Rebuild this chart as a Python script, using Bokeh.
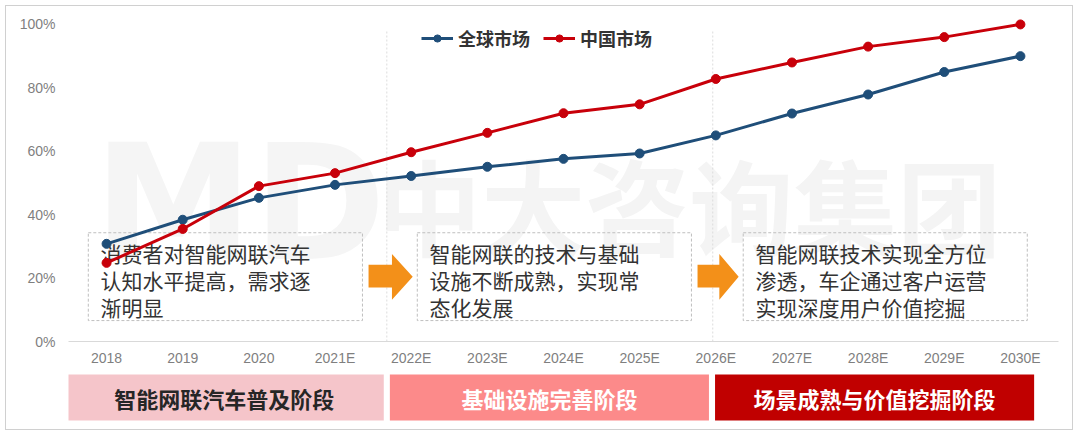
from bokeh.plotting import figure
from bokeh.models import (ColumnDataSource, FactorRange, Range1d, Legend, LegendItem,
                          FixedTicker, PrintfTickFormatter)
from bokeh.layouts import column
from bokeh.embed import file_html
from bokeh.resources import INLINE
from bokeh.core.properties import value

# ---------------- data ----------------
years = ["2018", "2019", "2020", "2021E", "2022E", "2023E", "2024E",
         "2025E", "2026E", "2027E", "2028E", "2029E", "2030E"]
global_market = [30.8, 38.4, 45.3, 49.4, 52.2, 55.1, 57.6, 59.3, 65.0, 71.9, 77.9, 85.0, 90.0]
china_market = [24.8, 35.5, 49.0, 53.1, 59.7, 65.8, 72.0, 74.8, 82.8, 88.0, 93.0, 96.0, 100.0]
series_names = ["全球市场", "中国市场"]
y_ticks = [0, 20, 40, 60, 80, 100]
phase_names = ["智能网联汽车普及阶段", "基础设施完善阶段", "场景成熟与价值挖掘阶段"]
phase_notes = [
    ["消费者对智能网联汽车", "认知水平提高，需求逐", "渐明显"],
    ["智能网联的技术与基础", "设施不断成熟，实现常", "态化发展"],
    ["智能网联技术实现全方位", "渗透，车企通过客户运营", "实现深度用户价值挖掘"],
]

# ---------------- style ----------------
BLUE = "#1f4e79"
RED = "#c8000a"
ORANGE = "#f39019"
GRAY_TXT = "#7f7f7f"
CJK = "Noto Sans CJK SC"
LAT = "Liberation Sans"
band_fill = ["#f5c5ca", "#fc8a8a", "#c00000"]
band_text = ["#262626", "#ffffff", "#ffffff"]


def sx(cat, off=0.0):
    """synthetic categorical coordinate: factor centre plus offset"""
    return years.index(cat) + 0.5 + off


x_range = FactorRange(*years, range_padding=0)

p = figure(x_range=x_range, y_range=Range1d(0, 102.5), width=1066, height=362,
           output_backend="svg", toolbar_location=None,
           min_border_left=62, min_border_right=14, min_border_top=10, min_border_bottom=26)
p.outline_line_color = None
p.background_fill_color = "white"
p.xgrid.grid_line_color = None
p.ygrid.grid_line_color = None

p.xaxis.axis_line_color = "#d9d9d9"
p.xaxis.major_tick_line_color = None
p.xaxis.minor_tick_line_color = None
p.xaxis.major_tick_out = 0
p.xaxis.major_tick_in = 0
p.xaxis.major_label_text_color = GRAY_TXT
p.xaxis.major_label_text_font = LAT
p.xaxis.major_label_text_font_size = "14px"
p.xaxis.major_label_standoff = 8

p.yaxis.axis_line_color = None
p.yaxis.major_tick_line_color = None
p.yaxis.minor_tick_line_color = None
p.yaxis.major_tick_out = 0
p.yaxis.major_tick_in = 0
p.yaxis.ticker = FixedTicker(ticks=y_ticks)
p.yaxis.formatter = PrintfTickFormatter(format="%d%%")
p.yaxis.major_label_text_color = GRAY_TXT
p.yaxis.major_label_text_font = LAT
p.yaxis.major_label_text_font_size = "14px"
p.yaxis.major_label_standoff = 13

# watermark
p.text(x=[sx("2026E", -0.35)], y=[43.5], text=["中大咨询集团"], text_font=value(CJK),
       text_font_style="bold", text_font_size="104px", text_color="#f4f4f4",
       text_align="center", text_baseline="middle")
p.text(x=[sx("2020", -0.25)], y=[43.5], text=["MD"], text_font=value("DejaVu Sans"),
       text_font_style="bold", text_font_size="160px", text_color="#f5f5f5",
       text_align="center", text_baseline="middle")

# phase separators (dotted verticals)
sep_x = [sx("2021E", 0.68), sx("2026E", -0.04)]
p.segment(x0=sep_x, y0=[0, 0], x1=sep_x, y1=[98, 98], line_color="#dcdcdc",
          line_width=1, line_dash="2 2")

# note boxes
box_left = [sx("2018", -0.24), sx("2022E", 0.08), sx("2026E", 0.36)]
box_right = [sx("2021E", 0.36), sx("2025E", 0.68), sx("2030E", 0.09)]
p.quad(left=box_left, right=box_right, top=34.3, bottom=6.6, fill_color=None,
       line_color="#bfbfbf", line_width=1, line_dash="3 2")

line_y = [28.0, 19.5, 11.0]
tx, ty, tt = [], [], []
for bl, notes in zip(box_left, phase_notes):
    for yy, s in zip(line_y, notes):
        tx.append(bl + 0.16)
        ty.append(yy)
        tt.append(s)
p.text(x=tx, y=ty, text=tt, text_font=value(CJK), text_font_size="21px",
       text_color="#333333", text_baseline="middle", text_align="left")

# orange arrows between boxes
axs, ays = [], []
for i in range(2):
    x0 = box_right[i] + 0.08
    tip = box_left[i + 1] - 0.06
    xb = x0 + (tip - x0) * 0.53
    axs.append([x0, xb, xb, tip, xb, xb, x0])
    ays.append([24.2, 24.2, 27.6, 20.4, 13.2, 17.0, 17.0])
p.patches(xs=axs, ys=ays, fill_color=ORANGE, line_color=None)

# series
src = ColumnDataSource(dict(year=years, g=global_market, c=china_market))
lg = p.line("year", "g", source=src, line_color=BLUE, line_width=3)
sg = p.scatter("year", "g", source=src, size=9, fill_color=BLUE, line_color=BLUE)
lc = p.line("year", "c", source=src, line_color=RED, line_width=3)
sc = p.scatter("year", "c", source=src, size=9, fill_color=RED, line_color=RED)

legend = Legend(items=[LegendItem(label=series_names[0], renderers=[lg, sg]),
                       LegendItem(label=series_names[1], renderers=[lc, sc])],
                orientation="horizontal", location=(353, 290),
                glyph_width=32, glyph_height=18, label_standoff=5, spacing=13,
                padding=2, margin=0, border_line_color=None, background_fill_alpha=0,
                label_text_font=CJK, label_text_font_style="bold",
                label_text_font_size="18px", label_text_color="#333333")
p.add_layout(legend)

# ---------------- phase bands ----------------
p2 = figure(x_range=x_range, y_range=Range1d(0, 61), width=1066, height=61,
            output_backend="svg", toolbar_location=None, x_axis_type=None, y_axis_type=None,
            min_border_left=62, min_border_right=14, min_border_top=0, min_border_bottom=0)
p2.outline_line_color = None
band_w = 4.19
gap = 0.08
b_left = [sx("2018", -0.55) + i * (band_w + gap) for i in range(3)]
b_right = [bl + band_w for bl in b_left]
bsrc = ColumnDataSource(dict(left=b_left, right=b_right, fill=band_fill,
                             cx=[(a + b) / 2 for a, b in zip(b_left, b_right)],
                             name=phase_names, tc=band_text))
p2.quad(left="left", right="right", top=55, bottom=9, fill_color="fill",
        line_color=None, source=bsrc)
p2.text(x="cx", y=32, text="name", text_color="tc", source=bsrc,
        text_font=value(CJK), text_font_style="bold", text_font_size="22px",
        text_align="center", text_baseline="middle")

layout = column(p, p2, spacing=0,
                styles={"border": "1px solid #d0d0d0", "margin": "5px 0 0 5px"})

open("out.html", "w").write(file_html(layout, INLINE))
